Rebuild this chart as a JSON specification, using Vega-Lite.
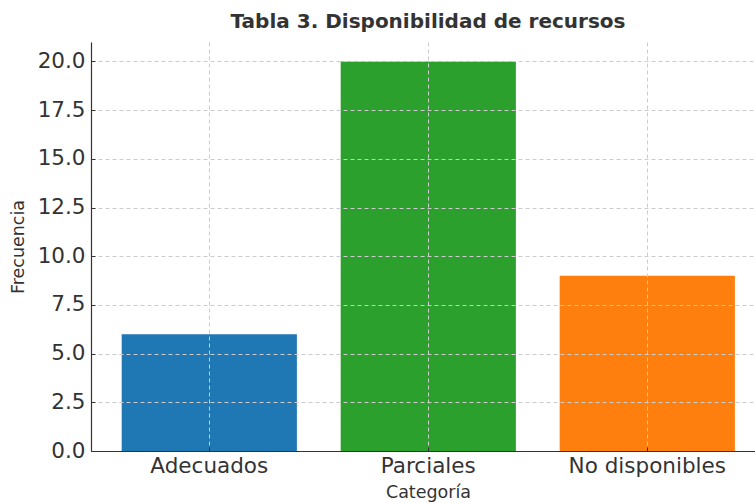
{
  "$schema": "https://vega.github.io/schema/vega-lite/v6.json",
  "autosize": {"type": "none"},
  "padding": {"left": 91, "top": 42, "right": 0, "bottom": 52},
  "width": 664,
  "height": 409,
  "background": "white",
  "title": {
    "text": "Tabla 3. Disponibilidad de recursos",
    "font": "DejaVu Sans",
    "fontSize": 20,
    "fontWeight": "bold",
    "color": "#333333",
    "anchor": "middle",
    "dx": 5,
    "offset": 10
  },
  "data": {
    "values": [
      {"Categoria": "Adecuados", "Frecuencia": 6},
      {"Categoria": "Parciales", "Frecuencia": 20},
      {"Categoria": "No disponibles", "Frecuencia": 9}
    ]
  },
  "mark": {"type": "bar"},
  "encoding": {
    "x": {
      "field": "Categoria",
      "type": "nominal",
      "sort": null,
      "scale": {"paddingInner": 0.2, "paddingOuter": 0.116, "align": 0.604},
      "axis": {
        "title": "Categoría",
        "titleX": 337,
        "titleFont": "DejaVu Sans",
        "titleFontSize": 17.5,
        "titleFontWeight": "normal",
        "titleColor": "#333333",
        "titlePadding": 7,
        "labelAngle": 0,
        "labelFont": "DejaVu Sans",
        "labelFontSize": 21.5,
        "labelColor": "#333333",
        "labelPadding": 8,
        "tickSize": -4,
        "tickColor": "#333333",
        "domainColor": "#333333",
        "domainWidth": 1.2,
        "grid": true,
        "gridColor": "#cccccc",
        "gridDash": [4, 3],
        "zindex": 1
      }
    },
    "y": {
      "field": "Frecuencia",
      "type": "quantitative",
      "scale": {"domain": [0, 21], "nice": false},
      "axis": {
        "title": "Frecuencia",
        "values": [0, 2.5, 5, 7.5, 10, 12.5, 15, 17.5, 20],
        "format": ".1f",
        "titleFont": "DejaVu Sans",
        "titleFontSize": 17.5,
        "titleFontWeight": "normal",
        "titleColor": "#333333",
        "titlePadding": 10,
        "labelFont": "DejaVu Sans",
        "labelFontSize": 21.5,
        "labelColor": "#333333",
        "labelPadding": 10,
        "tickSize": -4,
        "tickColor": "#333333",
        "domainColor": "#333333",
        "domainWidth": 1.2,
        "grid": true,
        "gridColor": "#cccccc",
        "gridDash": [4, 3],
        "zindex": 1
      }
    },
    "color": {
      "field": "Categoria",
      "type": "nominal",
      "scale": {
        "domain": ["Adecuados", "Parciales", "No disponibles"],
        "range": ["#1f77b4", "#2ca02c", "#ff7f0e"]
      },
      "legend": null
    }
  },
  "config": {"view": {"stroke": null}}
}
